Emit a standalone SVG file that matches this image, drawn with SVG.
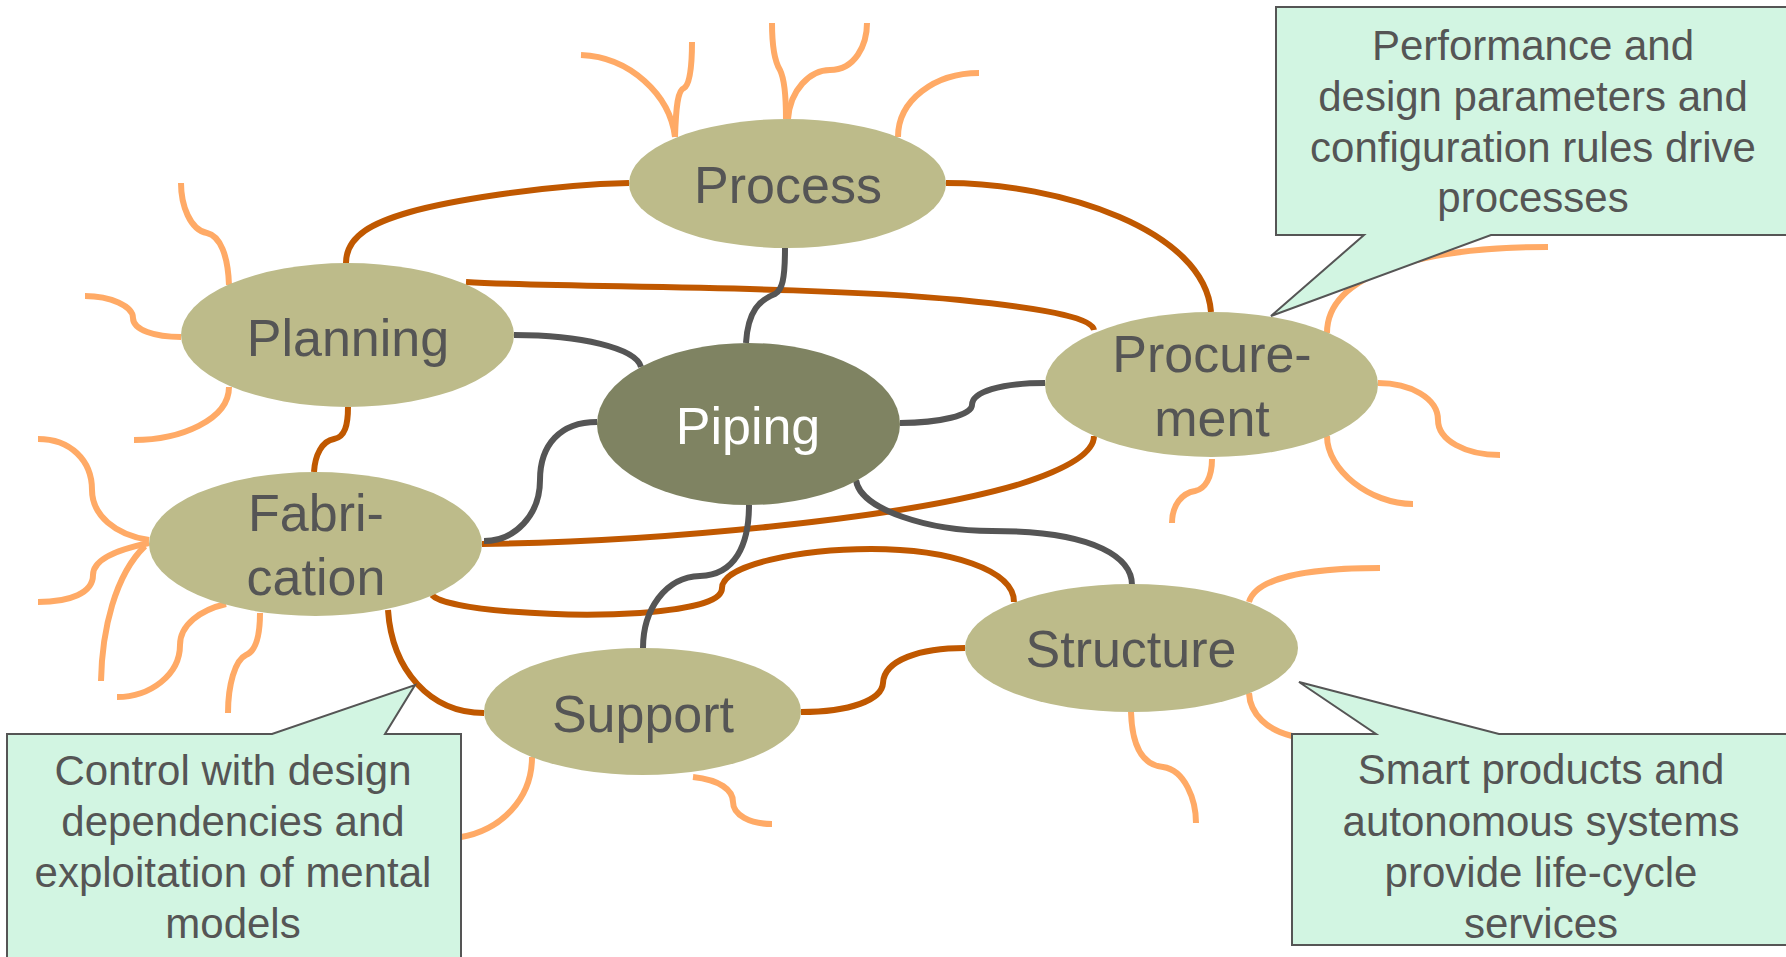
<svg xmlns="http://www.w3.org/2000/svg" width="1786" height="957" viewBox="0 0 1786 957">
  <style>
    .node { fill: #BDBB8A; }
    .hub { fill: #7F8362; }
    .label { font-family: "Liberation Sans", Arial, sans-serif; font-size: 52px; fill: #555555; text-anchor: middle; }
    .hub-label { fill: #FFFFFF; }
    .link { fill: none; stroke-width: 6; stroke-linecap: butt; }
    .brown { stroke: #C05800; }
    .grey { stroke: #555555; }
    .twig { fill: none; stroke: #FFAA66; stroke-width: 6; }
    .note { fill: #D2F5E2; stroke: #555555; stroke-width: 2; }
    .note-text { font-family: "Liberation Sans", Arial, sans-serif; font-size: 42px; fill: #555555; text-anchor: middle; }
  </style>

  <rect width="1786" height="957" fill="#FFFFFF"/>

  <!-- decorative branches sprouting from each node -->
  <g id="branches" class="twig">
    <!-- Planning -->
    <path d="M229,285 C228,255 220,236 207,233 C190,230 181,205 181,183"/>
    <path d="M181,337 C155,337 133,330 133,318 C133,306 110,296 85,296"/>
    <path d="M229,387 C229,420 180,440 134,440"/>
    <!-- Process -->
    <path d="M675,137 C670,95 630,57 581,55"/>
    <path d="M675,137 C676,105 678,90 684,88 C690,85 692,65 692,42"/>
    <path d="M786,119 C786,95 784,78 780,70 C775,62 772,45 772,23"/>
    <path d="M788,119 C790,90 810,70 830,70 C855,70 867,45 867,23"/>
    <path d="M898,137 C898,100 935,73 979,73"/>
    <!-- Procurement -->
    <path d="M1327,333 C1327,275 1420,247 1548,247"/>
    <path d="M1378,383 C1410,383 1438,398 1438,420 C1438,440 1465,455 1500,455"/>
    <path d="M1327,436 C1327,470 1370,504 1413,504"/>
    <path d="M1212,459 C1212,478 1205,489 1195,491 C1182,493 1172,505 1172,523"/>
    <!-- Fabrication -->
    <path d="M149,540 C115,535 92,515 92,490 C92,460 70,439 38,439"/>
    <path d="M149,543 C115,550 93,560 93,575 C93,593 70,602 38,602"/>
    <path d="M145,546 C115,575 102,630 101,681"/>
    <path d="M226,604 C200,610 180,625 180,645 C180,675 150,697 117,697"/>
    <path d="M260,613 C260,635 256,651 246,655 C235,660 228,685 228,713"/>
    <!-- Support -->
    <path d="M532,757 C532,800 500,830 461,837"/>
    <path d="M693,777 C720,780 733,790 733,802 C733,815 750,824 772,824"/>
    <!-- Structure -->
    <path d="M1249,602 C1255,580 1300,568 1380,568"/>
    <path d="M1249,693 C1250,715 1268,730 1292,736"/>
    <path d="M1131,712 C1132,745 1142,765 1163,767 C1185,770 1196,800 1196,823"/>
  </g>

  <!-- links between nodes -->
  <g id="connectors" class="link">
    <path class="brown" d="M346,263 C346,235 375,222 410,212 S540,185 629,183"/>
    <path class="brown" d="M946,183 C1060,183 1205,230 1211,312"/>
    <path class="brown" d="M466,282 C560,288 800,285 960,300 C1060,310 1092,320 1094,330"/>
    <path class="brown" d="M348,407 C348,425 345,437 334,439 C322,441 315,455 314,472"/>
    <path class="brown" d="M482,544 C650,542 900,520 1020,484 C1070,468 1094,452 1094,436"/>
    <path class="brown" d="M432,595 C445,610 560,618 640,613 C700,608 722,600 722,588 C722,565 800,549 871,549 C950,549 1014,570 1014,602"/>
    <path class="brown" d="M388,610 C392,670 430,713 484,713"/>
    <path class="brown" d="M801,712 C850,712 882,700 883,683 C884,660 920,648 965,648"/>
    <path class="grey" d="M785,248 C785,280 782,290 775,294 C760,300 748,310 746,343"/>
    <path class="grey" d="M514,335 C580,335 636,348 641,367"/>
    <path class="grey" d="M900,423 C940,423 972,415 972,405 C972,392 1000,383 1045,383"/>
    <path class="grey" d="M597,422 C560,422 540,445 540,480 C540,515 515,541 484,541"/>
    <path class="grey" d="M749,505 C749,545 735,575 700,576 C665,577 643,610 643,648"/>
    <path class="grey" d="M856,480 C860,510 930,531 992,531 C1100,531 1132,560 1132,585"/>
  </g>

  <g id="node-process">
    <ellipse class="node" cx="787.5" cy="183.5" rx="158.5" ry="64.5"/>
    <text class="label" x="788" y="203">Process</text>
  </g>
  <g id="node-planning">
    <ellipse class="node" cx="347.5" cy="335" rx="166.5" ry="72"/>
    <text class="label" x="348" y="356">Planning</text>
  </g>
  <g id="node-piping">
    <ellipse class="hub" cx="748.5" cy="424" rx="151.5" ry="81"/>
    <text class="label hub-label" x="748" y="444">Piping</text>
  </g>
  <g id="node-procurement">
    <ellipse class="node" cx="1211.5" cy="384.5" rx="166.5" ry="72.5"/>
    <text class="label" x="1212" y="372">Procure-</text>
    <text class="label" x="1212" y="436">ment</text>
  </g>
  <g id="node-fabrication">
    <ellipse class="node" cx="315.5" cy="544" rx="166.5" ry="72"/>
    <text class="label" x="316" y="531">Fabri-</text>
    <text class="label" x="316" y="595">cation</text>
  </g>
  <g id="node-support">
    <ellipse class="node" cx="642.5" cy="711.5" rx="158.5" ry="63.5"/>
    <text class="label" x="643" y="732">Support</text>
  </g>
  <g id="node-structure">
    <ellipse class="node" cx="1131.5" cy="648" rx="166.5" ry="64"/>
    <text class="label" x="1131" y="667">Structure</text>
  </g>

  <!-- callouts -->
  <g id="callout-performance">
    <path class="note" d="M1276,7 H1800 V235 H1491 L1271,316 L1364,235 H1276 Z"/>
    <text class="note-text" x="1533" y="60">Performance and</text>
    <text class="note-text" x="1533" y="111">design parameters and</text>
    <text class="note-text" x="1533" y="162">configuration rules drive</text>
    <text class="note-text" x="1533" y="212">processes</text>
  </g>
  <g id="callout-control">
    <path class="note" d="M7,734 H272 L415,685 L385,734 H461 V965 H7 Z"/>
    <text class="note-text" x="233" y="785">Control with design</text>
    <text class="note-text" x="233" y="836">dependencies and</text>
    <text class="note-text" x="233" y="887">exploitation of mental</text>
    <text class="note-text" x="233" y="938">models</text>
  </g>
  <g id="callout-smart">
    <path class="note" d="M1292,734 H1376 L1299,682 L1499,734 H1800 V945 H1292 Z"/>
    <text class="note-text" x="1541" y="784">Smart products and</text>
    <text class="note-text" x="1541" y="836">autonomous systems</text>
    <text class="note-text" x="1541" y="887">provide life-cycle</text>
    <text class="note-text" x="1541" y="938">services</text>
  </g>
</svg>
